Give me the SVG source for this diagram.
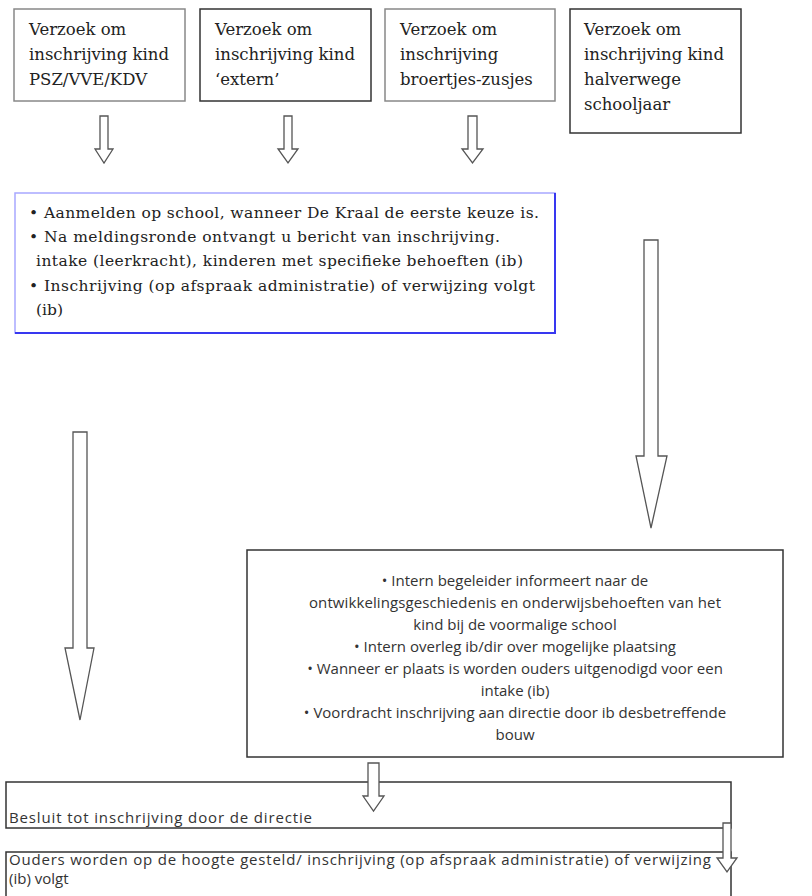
<svg xmlns="http://www.w3.org/2000/svg" width="812" height="896" viewBox="0 0 812 896">
<defs>
<style>
.bg{fill:#fff}
.box{fill:#fff;stroke:#333;stroke-width:1.5}
.boxg{fill:#fff;stroke:#888;stroke-width:1.5}
.serif{font-family:"DejaVu Serif","Liberation Serif",serif;fill:#222}
.top{font-size:16.5px}
.mid{font-size:15.5px}
.sans{font-family:"Open Sans","Noto Sans","Liberation Sans",sans-serif;fill:#333;font-size:15px}
.arrow{fill:#fff;stroke:#555;stroke-width:1.3;stroke-linejoin:miter}
</style>
</defs>
<rect class="bg" x="0" y="0" width="812" height="896"/>

<g id="node-psz">
<rect class="boxg" x="14" y="9" width="171" height="92"/>
<text class="serif top" x="29" y="35">Verzoek om</text>
<text class="serif top" x="29" y="60">inschrijving kind</text>
<text class="serif top" x="29" y="85">PSZ/VVE/KDV</text>
</g>
<g id="node-extern">
<rect class="box" x="200" y="9" width="171" height="92"/>
<text class="serif top" x="215" y="35">Verzoek om</text>
<text class="serif top" x="215" y="60">inschrijving kind</text>
<text class="serif top" x="215" y="85">‘extern’</text>
</g>
<g id="node-broertjes">
<rect class="boxg" x="385" y="9" width="170" height="92"/>
<text class="serif top" x="400" y="35">Verzoek om</text>
<text class="serif top" x="400" y="60">inschrijving</text>
<text class="serif top" x="400" y="85">broertjes-zusjes</text>
</g>
<g id="node-halverwege">
<rect class="box" x="570" y="9" width="171" height="124"/>
<text class="serif top" x="584" y="35">Verzoek om</text>
<text class="serif top" x="584" y="60">inschrijving kind</text>
<text class="serif top" x="584" y="85">halverwege</text>
<text class="serif top" x="584" y="110">schooljaar</text>
</g>

<g id="node-aanmelden">
<rect x="15" y="193" width="540" height="140" fill="#fff" stroke="#a8a8ff" stroke-width="1.5"/>
<path d="M15 333 H555 V193" fill="none" stroke="#3838f0" stroke-width="2"/>
<text class="serif mid" x="29" y="218" textLength="510" lengthAdjust="spacing">• Aanmelden op school, wanneer De Kraal de eerste keuze is.</text>
<text class="serif mid" x="29" y="242" textLength="471" lengthAdjust="spacing">• Na meldingsronde ontvangt u bericht van inschrijving.</text>
<text class="serif mid" x="36" y="266" textLength="487" lengthAdjust="spacing">intake (leerkracht), kinderen met specifieke behoeften (ib)</text>
<text class="serif mid" x="29" y="291" textLength="506" lengthAdjust="spacing">• Inschrijving (op afspraak administratie) of verwijzing volgt</text>
<text class="serif mid" x="36" y="315">(ib)</text>
</g>

<g id="node-intern">
<rect class="box" x="247" y="550" width="536" height="207"/>
<g class="sans" text-anchor="middle">
<text x="515" y="586">• Intern begeleider informeert naar de</text>
<text x="515" y="608" textLength="412" lengthAdjust="spacing">ontwikkelingsgeschiedenis en onderwijsbehoeften van het</text>
<text x="515" y="630">kind bij de voormalige school</text>
<text x="515" y="652">• Intern overleg ib/dir over mogelijke plaatsing</text>
<text x="515" y="674">• Wanneer er plaats is worden ouders uitgenodigd voor een</text>
<text x="515" y="696">intake (ib)</text>
<text x="515" y="718">•  Voordracht inschrijving aan directie door ib desbetreffende</text>
<text x="515" y="740">bouw</text>
</g>
</g>

<g id="node-besluit">
<rect class="box" x="6" y="782" width="725" height="46"/>
<text class="sans" x="9" y="823" textLength="303" lengthAdjust="spacing">Besluit tot inschrijving door de directie</text>
</g>

<g id="node-ouders">
<rect class="box" x="6" y="852" width="725" height="60"/>
<text class="sans" x="9" y="865" textLength="702" lengthAdjust="spacing">Ouders worden op de hoogte gesteld/ inschrijving (op afspraak administratie) of verwijzing</text>
<text class="sans" x="9" y="884">(ib) volgt</text>
</g>

<g id="connectors">
<path class="arrow" d="M100 116 H108 V149 H113 L104 163 L95 149 H100 Z"/>
<path class="arrow" d="M284 116 H292 V149 H298 L288 163 L278 149 H284 Z"/>
<path class="arrow" d="M468 116 H477 V149 H483 L472.5 163 L462 149 H468 Z"/>
<path class="arrow" d="M644 240 H658 V456 H667 L651 528 L636 456 H644 Z"/>
<path class="arrow" d="M73 432 H87 V648 H94 L80 720 L65 648 H73 Z"/>
<path class="arrow" d="M368 763 H379 V796 H384 L373.5 811 L363 796 H368 Z"/>
<path class="arrow" d="M723 823 H731 V858 H737 L727 872 L717 858 H723 Z"/>
</g>
</svg>
